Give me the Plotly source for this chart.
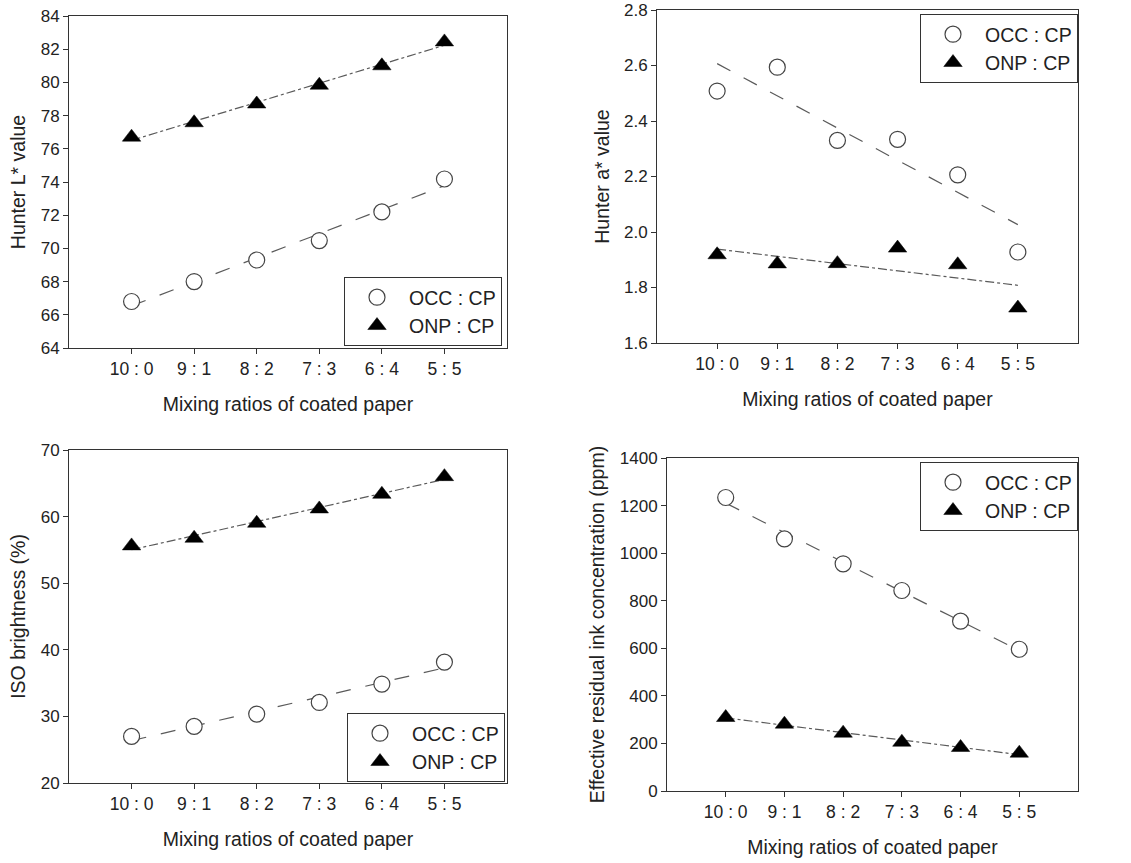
import numpy as np
import plotly.graph_objects as go

categories = ["10 : 0", "9 : 1", "8 : 2", "7 : 3", "6 : 4", "5 : 5"]

L_occ = [66.8, 68.0, 69.3, 70.47, 72.2, 74.18]
L_onp = [76.7, 77.57, 78.7, 79.83, 81.0, 82.44]

a_occ = [2.508, 2.594, 2.33, 2.334, 2.206, 1.928]
a_onp = [1.918, 1.885, 1.886, 1.942, 1.882, 1.726]

iso_occ = [27.0, 28.5, 30.35, 32.1, 34.85, 38.15]
iso_onp = [55.6, 56.75, 59.0, 61.15, 63.35, 66.0]

eric_occ = [1234, 1060, 955, 843, 714, 596]
eric_onp = [309, 281, 243, 205, 183, 159]

W, H = 1131, 863


def X(px):
    return px / W


def Y(py):
    return 1 - py / H


panels = [
    dict(occ=L_occ, onp=L_onp, ytitle="Hunter L* value", yrange=[64, 84], dtick=2,
         xd=[X(69), X(507)], yd=[Y(348), Y(16)],
         leg=dict(x=X(502), y=Y(277))),
    dict(occ=a_occ, onp=a_onp, ytitle="Hunter a* value", yrange=[1.6, 2.8], dtick=0.2,
         xd=[X(657), X(1078)], yd=[Y(343), Y(10)],
         leg=dict(x=X(1078), y=Y(14))),
    dict(occ=iso_occ, onp=iso_onp, ytitle="ISO brightness (%)", yrange=[20, 70], dtick=10,
         xd=[X(69), X(507)], yd=[Y(783), Y(450)],
         leg=dict(x=X(505), y=Y(713))),
    dict(occ=eric_occ, onp=eric_onp, ytitle="Effective residual ink concentration (ppm)",
         yrange=[0, 1400], dtick=200,
         xd=[X(667), X(1078)], yd=[Y(791), Y(458)],
         leg=dict(x=X(1078), y=Y(462))),
]

FONT = "Arial, Liberation Sans, sans-serif"
TXT = "#222222"
LINEC = "#5a5a5a"

fig = go.Figure()
xi = np.arange(len(categories))

layout = dict(
    template="none",
    width=W, height=H,
    margin=dict(l=0, r=0, t=0, b=0, autoexpand=False),
    paper_bgcolor="white", plot_bgcolor="white",
    font=dict(family=FONT, size=17, color=TXT),
)

for k, p in enumerate(panels, start=1):
    sfx = "" if k == 1 else str(k)
    xa, ya = "x" + sfx, "y" + sfx
    legname = "legend" + sfx
    # trend lines (least squares fits of the data)
    for vals, dash in ((p["occ"], "longdash"), (p["onp"], "dashdot")):
        c = np.polyfit(xi, vals, 1)
        fit = np.polyval(c, xi[[0, -1]])
        fig.add_trace(go.Scatter(x=xi[[0, -1]], y=fit, mode="lines",
                                 line=dict(color=LINEC, width=1.2, dash=dash),
                                 xaxis=xa, yaxis=ya, showlegend=False, hoverinfo="skip"))
    fig.add_trace(go.Scatter(x=xi, y=p["occ"], mode="markers", name="OCC : CP",
                             marker=dict(symbol="circle", size=16, color="white",
                                         line=dict(color="#444444", width=1.2)),
                             xaxis=xa, yaxis=ya, legend=legname))
    fig.add_trace(go.Scatter(x=xi, y=p["onp"], mode="markers", name="ONP : CP",
                             marker=dict(symbol="triangle-up", size=16, color="black",
                                         line=dict(color="black", width=0.5)),
                             xaxis=xa, yaxis=ya, legend=legname))

    layout["xaxis" + sfx] = dict(
        domain=p["xd"], anchor=ya, range=[-1, 6], automargin=False,
        tickmode="array", tickvals=list(xi), ticktext=categories,
        ticks="outside", ticklen=5, tickcolor="#333333", tickwidth=1,
        showline=True, linecolor="#333333", linewidth=1, mirror=True,
        showgrid=False, zeroline=False, ticklabeloverflow="allow",
        tickfont=dict(size=17.5, color=TXT),
        title=dict(text="Mixing ratios of coated paper", font=dict(size=19.5, color=TXT), standoff=19),
    )
    layout["yaxis" + sfx] = dict(
        domain=p["yd"], anchor=xa, range=p["yrange"], dtick=p["dtick"], automargin=False,
        ticks="outside", ticklen=5, tickcolor="#333333", tickwidth=1,
        showline=True, linecolor="#333333", linewidth=1, mirror=True,
        showgrid=False, zeroline=False, ticklabeloverflow="allow",
        tickfont=dict(size=17, color=TXT),
        tickformat=".1f" if k == 2 else "d",
        title=dict(text=p["ytitle"], font=dict(size=19.5, color=TXT), standoff=9),
    )
    layout[legname] = dict(
        x=p["leg"]["x"], y=p["leg"]["y"], xanchor="right", yanchor="top",
        bgcolor="white", bordercolor="#333333", borderwidth=1,
        font=dict(size=19.5, color=TXT), itemwidth=54,
        tracegroupgap=0,
    )

fig.update_layout(**layout)
fig.write_html("out.html",
               config={"displayModeBar": False},
               post_script="document.body.style.margin='0';document.body.style.overflow='hidden';")
